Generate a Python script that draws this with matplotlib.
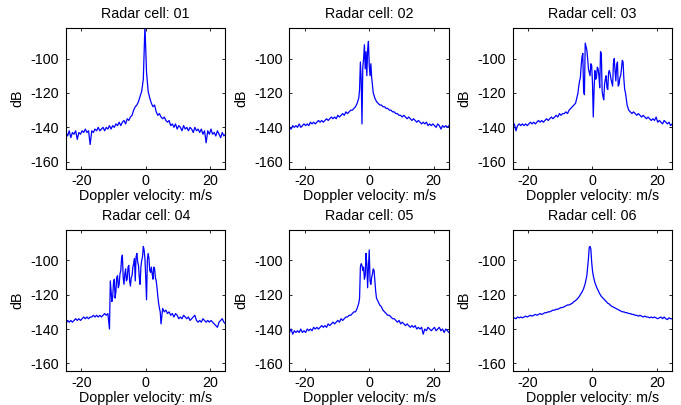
import matplotlib
matplotlib.use('Agg')
import matplotlib.pyplot as plt
import numpy as np

plt.rcParams['font.family'] = ['Liberation Sans', 'DejaVu Sans']
plt.rcParams['axes.unicode_minus'] = False

# doppler velocity bins (m/s), shared by every radar cell
velocity = np.arange(-24.75, 24.76, 0.5)

cell_names = ['01', '02', '03', '04', '05', '06']

cell01_db = [
    -143, -145, -142, -146, -143, -144, -142, -147, -143, -144,
    -142, -143, -141, -143, -142, -150, -142, -143, -141, -142,
    -140, -142, -141, -140, -142, -140, -141, -139, -141, -139,
    -140, -138, -139, -137, -139, -137, -136, -138, -135, -136,
    -134, -133, -130, -128, -127, -125, -122, -119, -112, -81,
    -108, -119, -123, -126, -128, -127, -131, -133, -132, -134,
    -135, -134, -136, -137, -136, -139, -138, -140, -138, -141,
    -139, -140, -142, -139, -141, -140, -142, -140, -141, -143,
    -140, -142, -141, -143, -141, -144, -142, -149, -142, -144,
    -141, -144, -143, -145, -142, -144, -146, -143, -145, -144,
]
cell01_extra_v = []
cell01_extra_db = []

cell02_db = [
    -140, -141, -139, -140, -139, -140, -138, -140, -139, -138,
    -139, -138, -139, -137, -138, -137, -138, -137, -136, -137,
    -136, -137, -136, -135, -136, -135, -134, -135, -134, -135,
    -133, -134, -133, -132, -133, -131, -132, -131, -130, -130,
    -129, -128, -126, -123, -102, -138, -100, -106, -110, -90,
    -110, -111, -120, -123, -125, -126, -127, -127, -128, -128,
    -129, -129, -130, -130, -131, -131, -132, -132, -133, -133,
    -134, -133, -134, -135, -134, -135, -136, -135, -136, -137,
    -136, -137, -138, -137, -138, -137, -139, -138, -139, -138,
    -139, -140, -138, -139, -141, -139, -140, -139, -140, -139,
]
cell02_extra_v = [-3.0, -2.5, -2.0, -1.5, -1.0, -0.5, 0.0, 0.5]
cell02_extra_db = [-118, -112, -105, -92, -96, -95, -104, -103]

cell03_db = [
    -139, -138, -142, -139, -138, -139, -138, -139, -138, -139,
    -138, -137, -138, -137, -138, -137, -136, -137, -136, -137,
    -136, -135, -136, -135, -134, -135, -134, -133, -134, -132,
    -133, -132, -132, -131, -132, -130, -129, -128, -127, -126,
    -122, -116, -111, -99, -119, -91, -95, -106, -110, -104,
    -134, -107, -111, -106, -117, -97, -122, -115, -110, -118,
    -107, -112, -116, -100, -113, -102, -115, -110, -101, -112,
    -120, -127, -130, -131, -132, -131, -132, -133, -132, -133,
    -134, -133, -134, -135, -134, -135, -136, -135, -136, -134,
    -137, -136, -137, -138, -136, -137, -138, -137, -139, -138,
]
cell03_extra_v = [-4.5, -4.0, -3.5, -3.0, -2.5, -2.0, -1.5, -1.0, -0.5, 0.0,
                  0.5, 1.0, 1.5, 2.0, 2.5, 3.0, 3.5, 4.0, 4.5, 5.0,
                  5.5, 6.0, 6.5, 7.0, 7.5, 8.0, 8.5, 9.0, 9.5, 10.0]
cell03_extra_db = [-120, -113, -104, -97, -121, -93, -100, -108, -103, -114,
                   -118, -112, -105, -110, -96, -119, -124, -112, -117, -108,
                   -109, -114, -103, -107, -104, -116, -111, -106, -102, -118]

cell04_db = [
    -137, -135, -136, -135, -136, -135, -134, -135, -134, -135,
    -134, -133, -134, -133, -134, -133, -133, -132, -133, -132,
    -133, -132, -133, -132, -131, -132, -131, -140, -118, -121,
    -111, -118, -109, -114, -106, -97, -114, -105, -111, -103,
    -115, -109, -102, -112, -96, -103, -114, -100, -92, -99,
    -123, -96, -106, -104, -111, -105, -112, -121, -128, -137,
    -128, -130, -129, -131, -130, -132, -131, -133, -131, -132,
    -134, -133, -134, -132, -133, -134, -133, -135, -134, -133,
    -132, -135, -136, -135, -136, -134, -135, -136, -135, -136,
    -135, -136, -137, -138, -139, -136, -135, -134, -136, -137,
]
cell04_extra_v = [-11.0, -10.5, -10.0, -9.5, -9.0, -8.5, -8.0, -7.5, -7.0, -6.5,
                  -6.0, -5.5, -5.0, -4.5, -4.0, -3.5, -3.0, -2.5, -2.0, -1.5,
                  -1.0, -0.5, 0.0, 0.5, 1.0, 1.5, 2.0, 2.5, 3.0, 3.5,
                  4.0, 4.5]
cell04_extra_db = [-112, -124, -113, -122, -110, -116, -108, -99, -110, -108,
                   -112, -104, -112, -110, -104, -99, -98, -101, -110, -104,
                   -98, -94, -110, -100, -99, -107, -108, -104, -110, -116,
                   -125, -130]

cell05_db = [
    -142, -140, -143, -141, -142, -141, -142, -140, -142, -141,
    -142, -140, -141, -140, -141, -139, -140, -139, -140, -139,
    -138, -139, -138, -139, -137, -138, -137, -136, -137, -136,
    -135, -136, -134, -135, -134, -133, -133, -132, -132, -131,
    -130, -130, -128, -125, -104, -103, -104, -109, -102, -104,
    -112, -110, -105, -112, -122, -124, -126, -127, -129, -130,
    -131, -132, -132, -133, -134, -134, -135, -136, -135, -137,
    -136, -137, -138, -137, -138, -139, -138, -139, -138, -140,
    -139, -140, -139, -143, -140, -141, -139, -140, -141, -140,
    -139, -141, -140, -139, -141, -140, -142, -140, -141, -142,
]
cell05_extra_v = [-3.0, -2.5, -2.0, -1.5, -1.0, -0.5, 0.0, 0.5, 1.0, 1.5, 2.0]
cell05_extra_db = [-122, -102, -106, -111, -96, -116, -94, -114, -108, -106, -118]

cell06_db = [
    -134, -133.5, -134, -133, -133.5, -133, -133.5, -133, -132.5, -133,
    -132.5, -132, -132.5, -132, -131.5, -132, -131.5, -131, -131.5, -131,
    -130.5, -130.5, -130, -130, -129.5, -129, -129, -128.5, -128.5, -128,
    -127.5, -127.5, -127, -126.5, -126, -126, -125.5, -125, -124, -123.5,
    -122.5, -121.5, -120, -118.5, -116.5, -113.5, -109, -99, -92, -101,
    -109, -113, -115.5, -117.5, -119.5, -121, -122, -123, -124, -125,
    -125.5, -126.5, -127, -127.5, -128, -128.5, -129, -129.5, -130, -130,
    -130.5, -130.5, -131, -131, -131.5, -131.5, -132, -132, -132.5, -132,
    -132.5, -133, -132.5, -133, -133, -133.5, -133, -133.5, -133, -133.5,
    -134, -133.5, -133, -134, -133, -134, -134.5, -133.5, -134, -134,
]
cell06_extra_v = [-1.5, -1.0, -0.5, 0.0]
cell06_extra_db = [-104, -92.5, -93.5, -106]

cell_db = [cell01_db, cell02_db, cell03_db, cell04_db, cell05_db, cell06_db]
cell_extra_v = [cell01_extra_v, cell02_extra_v, cell03_extra_v,
                cell04_extra_v, cell05_extra_v, cell06_extra_v]
cell_extra_db = [cell01_extra_db, cell02_extra_db, cell03_extra_db,
                 cell04_extra_db, cell05_extra_db, cell06_extra_db]


def main():
    fig = plt.figure(figsize=(6.81, 4.05), dpi=100)
    lefts = [0.0969, 0.4251, 0.7529]
    bottoms = [0.582, 0.084]
    w, h = 0.2342, 0.3485
    fs = 10.3

    for k in range(6):
        row, col = k // 3, k % 3
        ax = fig.add_axes([lefts[col], bottoms[row], w, h])

        v = np.concatenate([velocity, cell_extra_v[k]])
        db = np.concatenate([cell_db[k], cell_extra_db[k]])
        order = np.argsort(v, kind='stable')
        ax.plot(v[order], db[order], color='#0000ff', linewidth=0.9)

        ax.set_xlim(-24.75, 24.75)
        ax.set_ylim(-164.4, -82.3)
        ax.set_xticks([-20, 0, 20])
        ax.set_yticks([-160, -140, -120, -100])
        ax.tick_params(direction='in', length=2.5, width=0.6, labelsize=fs,
                       top=True, right=True)
        ax.tick_params(axis='x', pad=3.5)
        ax.tick_params(axis='y', pad=5)
        for s in ax.spines.values():
            s.set_linewidth(0.8)
        ax.set_title('Radar cell: ' + cell_names[k], fontsize=fs, pad=7)
        ax.set_xlabel('Doppler velocity: m/s', fontsize=fs, labelpad=0.5)
        ax.set_ylabel('dB', fontsize=fs, labelpad=4)

    fig.savefig('out.png', dpi=100)


if __name__ == '__main__':
    main()
